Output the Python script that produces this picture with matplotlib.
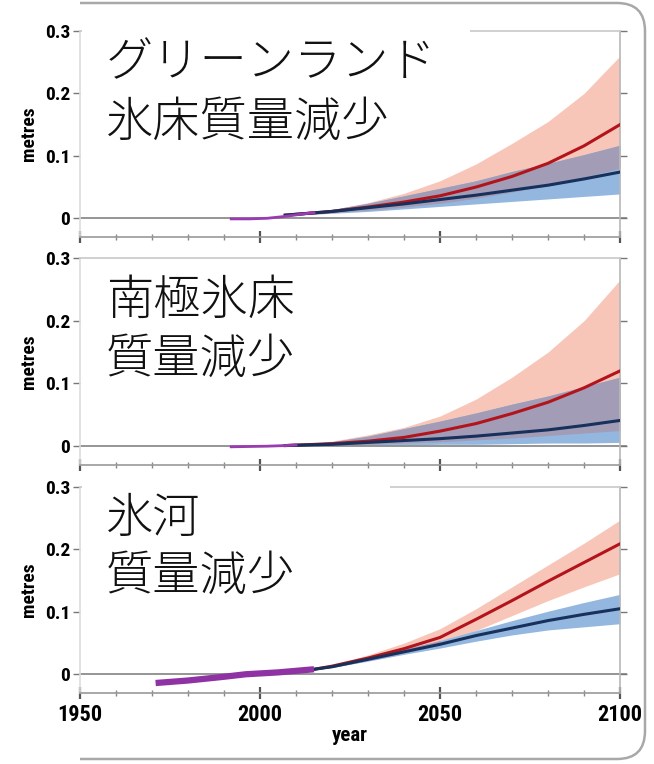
import matplotlib
matplotlib.use("Agg")
import matplotlib.pyplot as plt
import numpy as np
from matplotlib.patches import Rectangle, PathPatch
from matplotlib.path import Path
from matplotlib.transforms import IdentityTransform
from matplotlib.ticker import MultipleLocator

# projection years and values (metres)
proj_years = [2007, 2020, 2030, 2040, 2050, 2060, 2070, 2080, 2090, 2100]
glac_years = [2015, 2020, 2030, 2040, 2050, 2060, 2070, 2080, 2090, 2100]

# Greenland
gr_obs_years = [1992, 1997, 2002, 2007, 2012, 2015]
gr_obs = [-0.001, -0.001, 0.0, 0.003, 0.007, 0.009]
gr_red = [0.005, 0.011, 0.018, 0.026, 0.036, 0.05, 0.067, 0.088, 0.116, 0.15]
gr_red_hi = [0.006, 0.014, 0.025, 0.04, 0.06, 0.087, 0.12, 0.155, 0.2, 0.26]
gr_red_lo = [0.004, 0.009, 0.013, 0.018, 0.024, 0.032, 0.042, 0.053, 0.066, 0.08]
gr_blue = [0.005, 0.011, 0.017, 0.023, 0.03, 0.037, 0.045, 0.053, 0.063, 0.074]
gr_blue_hi = [0.006, 0.014, 0.024, 0.036, 0.048, 0.06, 0.075, 0.088, 0.102, 0.117]
gr_blue_lo = [0.004, 0.008, 0.011, 0.015, 0.019, 0.023, 0.027, 0.031, 0.035, 0.039]

# Antarctica
an_obs_years = [1992, 1997, 2002, 2007, 2010]
an_obs = [-0.001, -0.0005, 0.0, 0.001, 0.002]
an_red = [0.001, 0.004, 0.008, 0.014, 0.024, 0.036, 0.052, 0.07, 0.093, 0.12]
an_red_hi = [0.002, 0.008, 0.018, 0.03, 0.048, 0.075, 0.11, 0.15, 0.2, 0.265]
an_red_lo = [0.0, 0.002, 0.003, 0.005, 0.007, 0.01, 0.013, 0.017, 0.021, 0.025]
an_blue = [0.001, 0.003, 0.006, 0.009, 0.012, 0.016, 0.021, 0.026, 0.033, 0.041]
an_blue_hi = [0.002, 0.007, 0.016, 0.028, 0.04, 0.053, 0.067, 0.08, 0.095, 0.11]
an_blue_lo = [0.0, 0.001, 0.002, 0.002, 0.003, 0.003, 0.004, 0.005, 0.005, 0.006]

# Glaciers
gl_obs_years = [1971, 1980, 1990, 1996, 2005, 2015]
gl_obs = [-0.014, -0.01, -0.004, 0.0, 0.003, 0.008]
gl_red = [0.008, 0.013, 0.026, 0.041, 0.059, 0.088, 0.118, 0.149, 0.179, 0.209]
gl_red_hi = [0.009, 0.015, 0.031, 0.05, 0.073, 0.105, 0.14, 0.175, 0.21, 0.247]
gl_red_lo = [0.007, 0.011, 0.022, 0.034, 0.047, 0.07, 0.094, 0.118, 0.14, 0.161]
gl_blue = [0.008, 0.012, 0.024, 0.036, 0.048, 0.062, 0.074, 0.086, 0.096, 0.105]
gl_blue_hi = [0.009, 0.013, 0.027, 0.04, 0.054, 0.07, 0.086, 0.101, 0.115, 0.128]
gl_blue_lo = [0.007, 0.011, 0.021, 0.032, 0.042, 0.053, 0.063, 0.071, 0.076, 0.081]

titles = [["グリーンランド", "氷床質量減少"], ["南極氷床", "質量減少"], ["氷河", "質量減少"]]
yticks = [0, 0.1, 0.2, 0.3]
yticklabels = ["0", "0.1", "0.2", "0.3"]

panels = [
    (proj_years, gr_obs_years, gr_obs, gr_red, gr_red_lo, gr_red_hi, gr_blue, gr_blue_lo, gr_blue_hi),
    (proj_years, an_obs_years, an_obs, an_red, an_red_lo, an_red_hi, an_blue, an_blue_lo, an_blue_hi),
    (glac_years, gl_obs_years, gl_obs, gl_red, gl_red_lo, gl_red_hi, gl_blue, gl_blue_lo, gl_blue_hi),
]

W, H = 654, 764
fig = plt.figure(figsize=(W / 100, H / 100), dpi=100)

num_font = ["Roboto Condensed", "Liberation Sans Narrow", "Roboto", "DejaVu Sans"]
jp_font = ["Noto Sans CJK JP", "DejaVu Sans"]

# panel boxes in pixels: (top, bottom)
boxes = [(31, 237), (258, 465), (487, 693)]
left_px, right_px = 80, 620

for i, (p, (top, bot)) in enumerate(zip(panels, boxes)):
    yrs, oyrs, obs, red, red_lo, red_hi, blue, blue_lo, blue_hi = p
    ax = fig.add_axes([left_px / W, 1 - bot / H, (right_px - left_px) / W, (bot - top) / H])
    ax.set_facecolor("none")

    # red range, blue range, and where they overlap
    ov_lo = np.maximum(red_lo, blue_lo)
    ov_hi = np.minimum(red_hi, blue_hi)
    ax.fill_between(yrs, red_lo, red_hi, color="#f8c6b8", lw=0)
    ax.fill_between(yrs, blue_lo, blue_hi, color="#93b7df", lw=0)
    ax.fill_between(yrs, ov_lo, ov_hi, where=ov_hi > ov_lo, color="#a29cb6", lw=0)
    ax.axhline(0, xmin=0, xmax=1.012, color="#8c8c8c", lw=1.3, clip_on=False, zorder=1)
    ax.plot(yrs, red, color="#b3141c", lw=2.2, zorder=3)
    ax.plot(yrs, blue, color="#17305c", lw=2.2, zorder=3)
    if i == 2:
        ax.plot(oyrs, obs, color="#8e32a4", lw=4.5, solid_capstyle="butt", zorder=4)
    else:
        ax.plot(oyrs, obs, color="#9a3cb0", lw=2, zorder=4)

    ax.set_xlim(1950, 2100)
    ax.set_ylim(-0.03, 0.3)
    ax.set_yticks(yticks)
    ax.set_yticklabels(yticklabels, family=num_font, weight="bold", size=14)
    ax.xaxis.set_major_locator(MultipleLocator(50))
    ax.xaxis.set_minor_locator(MultipleLocator(10))
    ax.tick_params(axis="y", which="major", direction="out", length=5, width=1,
                   color="#777777", right=True, pad=2)
    ax.tick_params(axis="x", which="major", direction="inout", length=9, width=1.6, color="#555555")
    ax.tick_params(axis="x", which="minor", direction="inout", length=5, width=1, color="#888888")

    for side, c in [("left", "#dddddd"), ("right", "#b8b8b8"), ("top", "#c8c8c8"), ("bottom", "#9a9a9a")]:
        ax.spines[side].set_color(c)
        ax.spines[side].set_linewidth(1.2)

    ax.set_ylabel("metres", family=num_font, weight="bold", size=14, labelpad=5)
    if i == 2:
        ax.set_xticks([1950, 2000, 2050, 2100])
        ax.set_xticklabels(["1950", "2000", "2050", "2100"], family=num_font, weight="bold", size=16)
        ax.set_xlabel("year", family=num_font, weight="bold", size=15, labelpad=0)
    else:
        ax.tick_params(axis="x", labelbottom=False)

# white boxes behind the Japanese labels
label_boxes = [(82, 24, 388, 136), (82, 262, 360, 124), (82, 482, 308, 120)]
label_rows = [(63, 122), (300, 359), (519, 576)]
for (x0, y0, bw, bh), rows, lines in zip(label_boxes, label_rows, titles):
    fig.add_artist(Rectangle((x0, H - y0 - bh), bw, bh, transform=IdentityTransform(),
                             facecolor="white", edgecolor="none", zorder=2))
    for y, txt in zip(rows, lines):
        fig.text(106 / W, 1 - y / H, txt, family=jp_font, size=34, weight="light",
                 va="center", ha="left", color="#111111", zorder=3)

# rounded frame round the chart (left side is cut off in the original)
r = 28
xl, xr, yt, yb = 80, 645, H - 3, H - 759
verts = [(xl, yt), (xr - r, yt), (xr, yt), (xr, yt - r), (xr, yb + r), (xr, yb), (xr - r, yb), (xl, yb)]
codes = [Path.MOVETO, Path.LINETO, Path.CURVE3, Path.CURVE3, Path.LINETO, Path.CURVE3, Path.CURVE3, Path.LINETO]
fig.add_artist(PathPatch(Path(verts, codes), transform=IdentityTransform(), facecolor="none",
                         edgecolor="#a8a8a8", lw=1.8, zorder=-2))

fig.savefig("out.png", dpi=100)
